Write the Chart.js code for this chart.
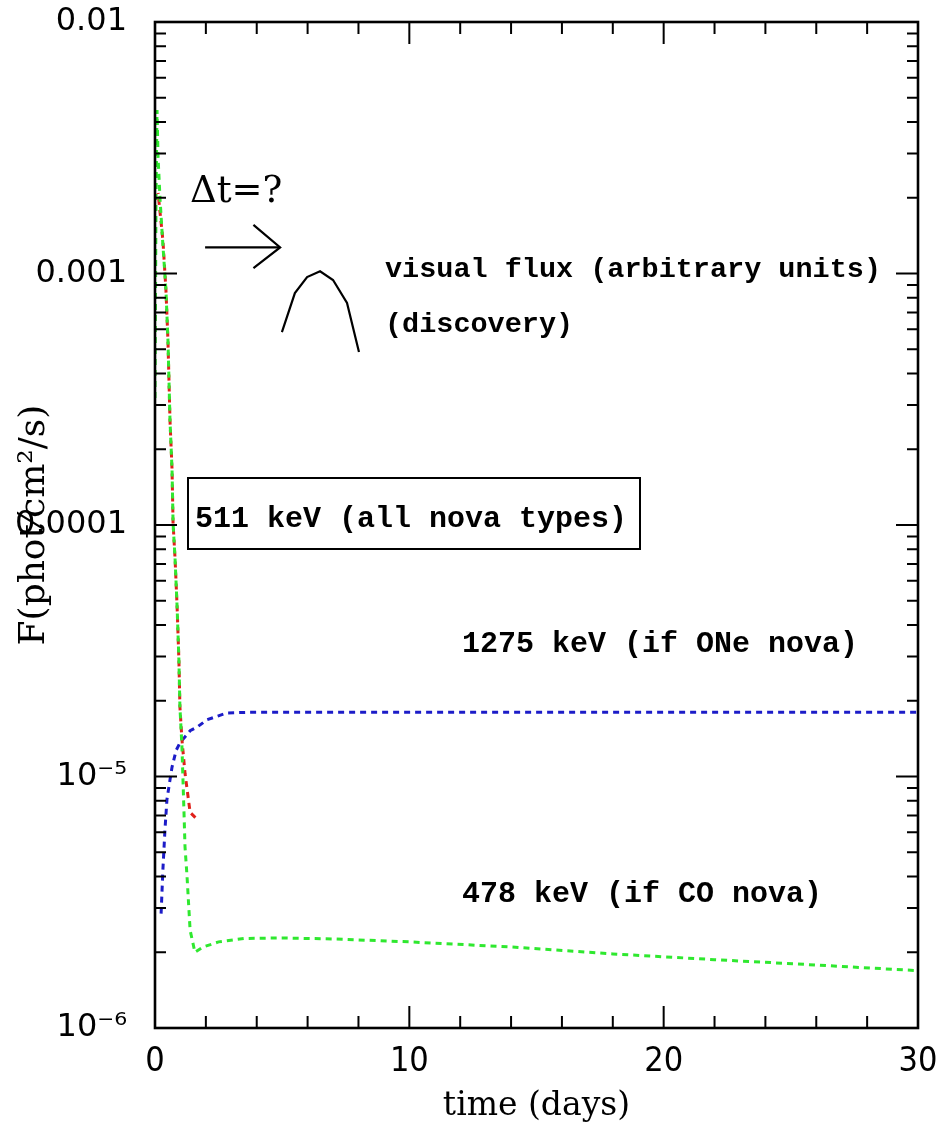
<!DOCTYPE html>
<html>
<head>
<meta charset="utf-8">
<script src="https://cdn.jsdelivr.net/npm/chart.js@4.4.1/dist/chart.umd.min.js"></script>
<style>
  html, body { margin: 0; padding: 0; background: #fff; }
</style>
</head>
<body>
<canvas id="novaChart" width="936" height="1129"></canvas>
<script>
// light curves, time in days, flux in phot/cm2/s
var t511 = [0.12, 0.31, 0.43, 0.51, 0.59, 0.67, 0.71, 0.79, 0.87, 0.94, 0.98, 1.06, 1.18, 1.38, 1.69];
var f511 = [2.09e-3, 1.36e-3, 8.6e-4, 5.4e-4, 2.6e-4, 1.66e-4, 1.02e-4, 7.3e-5, 4.7e-5, 2.9e-5, 1.89e-5, 1.4e-5, 1.03e-5, 7.2e-6, 6.7e-6];

var t478 = [0, 0.04, 0.08, 0.12, 0.2, 0.31, 0.43, 0.51, 0.59, 0.67, 0.71, 0.79, 0.87, 0.94, 0.98, 1.06, 1.1, 1.14, 1.18, 1.26, 1.38, 1.57, 1.9, 2.5, 3.5, 5, 7, 10, 14, 18, 22, 26, 30];
var f478 = [3.2e-4, 1.96e-3, 4.47e-3, 2.9e-3, 1.96e-3, 1.3e-3, 8.6e-4, 5.4e-4, 2.6e-4, 1.66e-4, 1.02e-4, 7.3e-5, 4.7e-5, 2.9e-5, 1.89e-5, 1.31e-5, 9.7e-6, 7.2e-6, 5.25e-6, 4.0e-6, 2.45e-6, 2.0e-6, 2.1e-6, 2.2e-6, 2.27e-6, 2.28e-6, 2.26e-6, 2.2e-6, 2.1e-6, 1.97e-6, 1.87e-6, 1.78e-6, 1.69e-6];

var t1275 = [0.24, 0.31, 0.39, 0.47, 0.59, 0.67, 0.83, 0.98, 1.38, 1.65, 2.04, 2.83, 3.74, 10, 20, 30];
var f1275 = [2.85e-6, 4.25e-6, 6.1e-6, 8.1e-6, 9.7e-6, 1.09e-5, 1.27e-5, 1.36e-5, 1.52e-5, 1.57e-5, 1.68e-5, 1.79e-5, 1.8e-5, 1.8e-5, 1.8e-5, 1.8e-5];

// sketch of the optical light curve and the delay arrow
var tVisual = [4.99, 5.5, 5.98, 6.49, 7.0, 7.55, 8.02];
var fVisual = [5.85e-4, 8.36e-4, 9.68e-4, 1.02e-3, 9.42e-4, 7.64e-4, 4.87e-4];
var tArrow = [1.97, 4.92];
var fArrow = [1.27e-3, 1.27e-3];
var tHead = [3.87, 4.92, 3.87];
var fHead = [1.56e-3, 1.27e-3, 1.05e-3];

var xTicks = [0, 10, 20, 30];
var yTicks = [1e-6, 1e-5, 1e-4, 1e-3, 1e-2];
var yTickLabels = ['10\u207B\u2076', '10\u207B\u2075', '0.0001', '0.001', '0.01'];

function pts(ts, fs) {
  return ts.map(function (t, i) { return { x: t, y: fs[i] }; });
}

function dashed(label, ts, fs, color, offset) {
  return {
    label: label,
    data: pts(ts, fs),
    borderColor: color,
    borderWidth: 3,
    borderDash: [6, 5],
    borderDashOffset: offset,
    pointRadius: 0,
    tension: 0,
    fill: false
  };
}

function solid(label, ts, fs) {
  return {
    label: label,
    data: pts(ts, fs),
    borderColor: '#000',
    borderWidth: 2.2,
    pointRadius: 0,
    tension: 0,
    fill: false
  };
}

// box, inward ticks on all four sides and the annotations
var framePlugin = {
  id: 'frame',
  afterDraw: function (chart) {
    var ctx = chart.ctx, a = chart.chartArea;
    var xs = chart.scales.x, ys = chart.scales.y;
    ctx.save();
    ctx.strokeStyle = '#000';
    ctx.lineWidth = 2;
    ctx.beginPath();
    for (var d = 2; d < 30; d += 2) {
      var px = xs.getPixelForValue(d);
      var len = d % 10 === 0 ? 22 : 12;
      ctx.moveTo(px, a.bottom); ctx.lineTo(px, a.bottom - len);
      ctx.moveTo(px, a.top); ctx.lineTo(px, a.top + len);
    }
    for (var e = -6; e < -2; e++) {
      for (var m = 1; m < 10; m++) {
        if (e === -6 && m === 1) continue;
        var py = ys.getPixelForValue(m * Math.pow(10, e));
        var l = m === 1 ? 22 : 11;
        ctx.moveTo(a.left, py); ctx.lineTo(a.left + l, py);
        ctx.moveTo(a.right, py); ctx.lineTo(a.right - l, py);
      }
    }
    ctx.stroke();
    ctx.lineWidth = 2.6;
    ctx.strokeRect(a.left, a.top, a.right - a.left, a.bottom - a.top);

    ctx.fillStyle = '#000';
    ctx.textBaseline = 'alphabetic';
    ctx.textAlign = 'left';
    ctx.font = "37px 'DejaVu Serif', serif";
    ctx.fillText('\u0394t=?', 190, 202);
    ctx.font = "bold 28.5px 'Liberation Mono', monospace";
    ctx.fillText('visual flux (arbitrary units)', 385, 277);
    ctx.fillText('(discovery)', 385, 332);
    ctx.font = "bold 30px 'Liberation Mono', monospace";
    ctx.fillText('511 keV (all nova types)', 195, 527);
    ctx.fillText('1275 keV (if ONe nova)', 462, 652);
    ctx.fillText('478 keV (if CO nova)', 462, 902);
    ctx.lineWidth = 2;
    ctx.strokeRect(188, 478, 452, 71);
    ctx.restore();
  }
};

new Chart(document.getElementById('novaChart').getContext('2d'), {
  type: 'line',
  data: {
    datasets: [
      dashed('478 keV', t478, f478, '#2fe82f', 0),
      dashed('511 keV', t511, f511, '#e0201a', 5),
      dashed('1275 keV', t1275, f1275, '#1c1cc8', 0),
      solid('visual', tVisual, fVisual),
      solid('arrow', tArrow, fArrow),
      solid('head', tHead, fHead)
    ]
  },
  options: {
    responsive: false,
    animation: false,
    events: [],
    layout: { padding: { top: 22, right: 18, bottom: 0, left: 0 } },
    plugins: { legend: { display: false }, tooltip: { enabled: false } },
    scales: {
      x: {
        type: 'linear',
        min: 0,
        max: 30,
        grid: { display: false },
        border: { display: false },
        afterBuildTicks: function (scale) {
          scale.ticks = xTicks.map(function (v) { return { value: v }; });
        },
        afterFit: function (scale) {
          scale.height = 101;
          scale.paddingLeft = 0;
          scale.paddingRight = 0;
        },
        ticks: {
          color: '#000',
          padding: 6,
          maxRotation: 0,
          autoSkip: false,
          font: { family: "'DejaVu Sans Condensed', 'DejaVu Sans'", size: 34 },
          callback: function (v) { return String(v); }
        },
        title: {
          display: true,
          text: 'time (days)',
          color: '#000',
          padding: { top: 0, bottom: 3 },
          font: { family: "'DejaVu Serif'", size: 33 }
        }
      },
      y: {
        type: 'logarithmic',
        min: 1e-6,
        max: 1e-2,
        grid: { display: false },
        border: { display: false },
        afterBuildTicks: function (scale) {
          scale.ticks = yTicks.map(function (v) { return { value: v }; });
        },
        afterFit: function (scale) {
          scale.width = 155;
          scale.paddingTop = 0;
          scale.paddingBottom = 0;
        },
        ticks: {
          color: '#000',
          padding: 20,
          autoSkip: false,
          font: { family: "'DejaVu Sans'", size: 32 },
          callback: function (v, i) { return yTickLabels[i]; }
        },
        title: {
          display: true,
          text: 'F(phot\u2044cm\u00B2/s)',
          color: '#000',
          padding: { top: 13, bottom: 0 },
          font: { family: "'DejaVu Serif'", size: 36 }
        }
      }
    }
  },
  plugins: [framePlugin]
});
</script>
</body>
</html>
